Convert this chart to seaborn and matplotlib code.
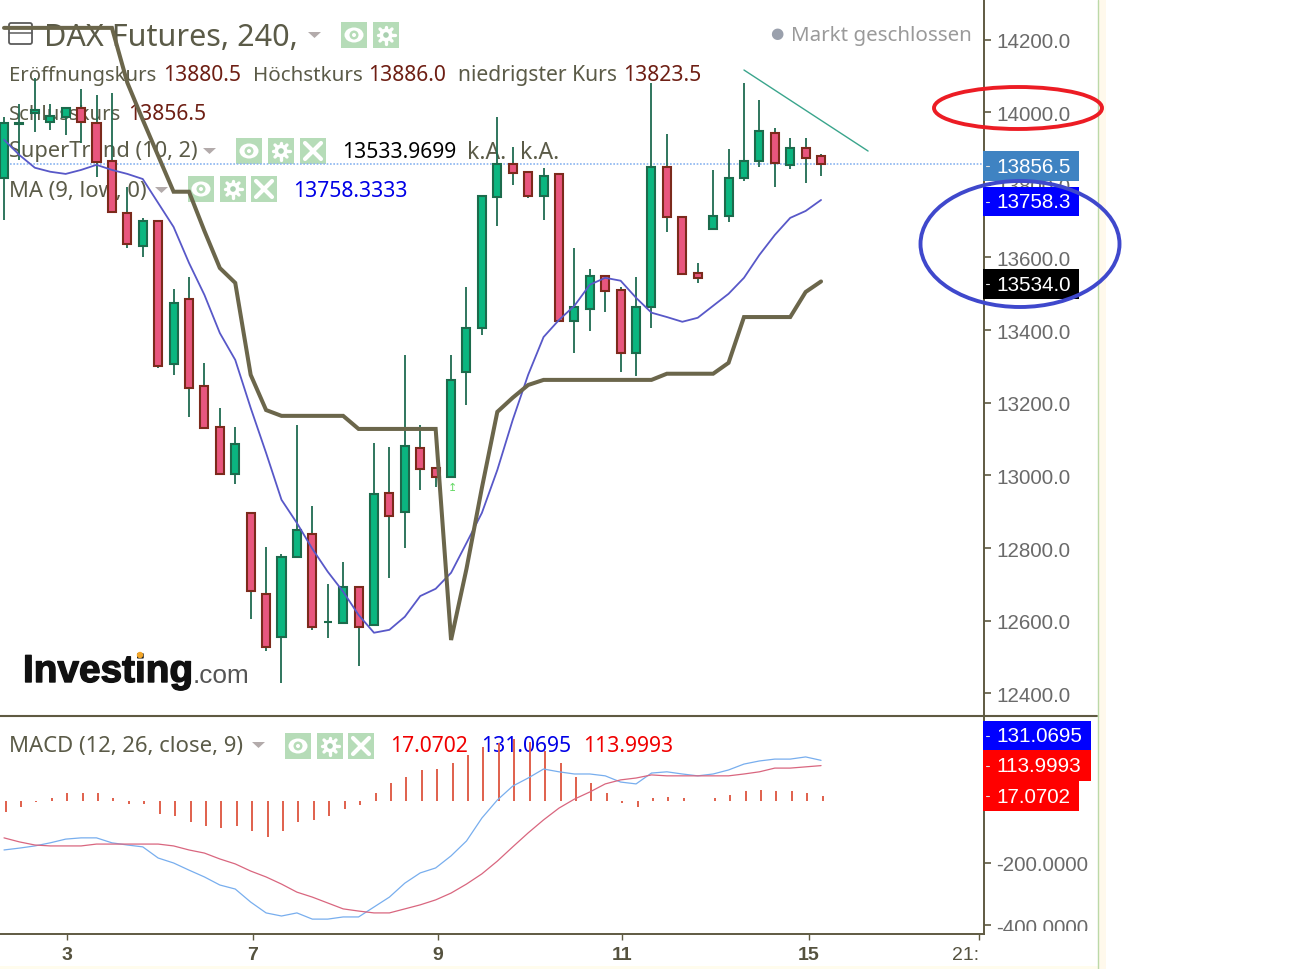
import matplotlib
matplotlib.use('Agg')
import numpy as np
import pandas as pd
import matplotlib.pyplot as plt
import matplotlib.transforms as mtrans
import matplotlib.patheffects as pe
from matplotlib.patches import Rectangle, Ellipse, Circle, Polygon, FancyBboxPatch
from matplotlib.lines import Line2D
import seaborn as sns

# candles (last one from the legend)
opens = [13819, 13968, 13998, 13973, 13987, 14012, 13970, 13866, 13723, 13632, 13701, 13307, 13486, 13247,
         13134, 13004, 12897, 12674, 12556, 12776, 12839, 12597, 12594, 12693, 12589, 12952, 12900, 13076,
         13021, 12996, 13285, 13406, 13767, 13858, 13836, 13769, 13830, 13425, 13458, 13549, 13511, 13337,
         13464, 13849, 13712, 13558, 13679, 13714, 13819, 13866, 13943, 13855, 13902, 13880.5]
highs = [13987, 14023, 14094, 14023, 14014, 14064, 14048, 14053, 13794, 13709, 13701, 13514, 13547, 13310,
         13186, 13134, 12897, 12803, 12784, 13139, 12916, 12702, 12762, 12693, 13090, 13079, 13332, 13139,
         13021, 13332, 13519, 13769, 13987, 13904, 13836, 13847, 13830, 13626, 13569, 13549, 13519, 13547,
         14081, 13940, 13712, 13585, 13841, 13899, 14081, 14034, 13957, 13929, 13929, 13886.0]
lows = [13703, 13869, 13946, 13951, 13937, 13915, 13822, 13725, 13626, 13602, 13296, 13277, 13161, 13131,
        13004, 12977, 12605, 12517, 12429, 12776, 12575, 12553, 12594, 12476, 12589, 12718, 12801, 12960,
        12969, 12996, 13194, 13387, 13687, 13800, 13764, 13703, 13425, 13337, 13398, 13450, 13285, 13274,
        13406, 13670, 13555, 13530, 13679, 13698, 13811, 13849, 13794, 13844, 13805, 13823.5]
closes = [13970, 13970, 14006, 13990, 14012, 13973, 13863, 13725, 13637, 13701, 13302, 13475, 13241, 13131,
          13004, 13087, 12682, 12528, 12776, 12850, 12583, 12597, 12693, 12583, 12949, 12889, 13081, 13018,
          12996, 13263, 13406, 13769, 13858, 13833, 13769, 13825, 13425, 13464, 13549, 13508, 13337, 13464,
          13849, 13712, 13555, 13544, 13714, 13819, 13866, 13948, 13860, 13902, 13874, 13856.5]
ma_low = [13924, 13882, 13847, 13836, 13830, 13841, 13855, 13841, 13830, 13816, 13750, 13684, 13585, 13497,
          13392, 13318, 13186, 13062, 12933, 12869, 12798, 12735, 12680, 12616, 12567, 12575, 12611, 12668,
          12688, 12732, 12814, 12897, 13015, 13153, 13277, 13381, 13428, 13467, 13525, 13544, 13536, 13489,
          13448, 13436, 13423, 13434, 13467, 13500, 13544, 13607, 13662, 13709, 13728, 13758.3]
supertrend = [14232, 14232, 14232, 14232, 14232, 14232, 14232, 14232, 14081, 13979, 13880, 13781, 13781, 13673,
              13571, 13530, 13277, 13180, 13164, 13164, 13164, 13164, 13164, 13128, 13128, 13128, 13128, 13128,
              13128, 12547, 12743, 12966, 13175, 13214, 13249, 13263, 13263, 13263, 13263, 13263, 13263, 13263,
              13263, 13280, 13280, 13280, 13280, 13310, 13436, 13436, 13436, 13436, 13505, 13534]
macd_line = [-158, -152, -145, -135, -123, -119, -119, -135, -142, -148, -184, -200, -223, -245, -271, -284,
             -326, -361, -371, -361, -381, -381, -374, -374, -342, -310, -265, -232, -216, -177, -129, -55,
             3, 48, 74, 103, 94, 87, 87, 81, 61, 55, 90, 94, 87, 81, 87, 100, 119, 129, 135, 135, 142, 131]
signal_line = [-119, -132, -142, -145, -145, -145, -139, -139, -139, -139, -139, -145, -158, -168, -187, -203,
               -226, -245, -268, -294, -310, -329, -348, -355, -361, -361, -348, -335, -319, -297, -268, -235,
               -194, -148, -103, -61, -23, 6, 29, 55, 68, 74, 84, 81, 81, 81, 81, 81, 87, 94, 106, 106, 110, 114]
macd_hist = [-35, -18, -3, 10, 25, 25, 25, 8, -11, -11, -43, -48, -67, -80, -86, -80, -97, -115, -97, -67,
             -61, -48, -27, -14, 25, 57, 78, 99, 104, 122, 147, 175, 188, 201, 190, 161, 122, 78, 57, 25,
             -5, -18, 8, 13, 8, 0, 8, 18, 32, 36, 31, 31, 25, 17]

day_pos = [4.1, 16.15, 28.15, 40.1, 52.2, 63.25]
day_labels = ['3', '7', '9', '11', '15', '21:']
price_ticks = [12400, 12600, 12800, 13000, 13200, 13400, 13600, 13800, 14000, 14200]
macd_ticks = [-400, -200]
trend_x = [48, 56.05]
trend_y = [14116, 13893]
last_close = 13856.5

OLIVE = '#5f5a42'
GREEN = '#0bb680'
RED = '#e8567e'
TXT = '#5b5b48'
VAL = '#6e1f14'
LOGO_FONT = 'Liberation Sans'
UI_FONT = 'Noto Sans'

sns.set_style('white')
plt.rcParams['font.family'] = [UI_FONT, 'DejaVu Sans']

W, H = 1315, 970
fig = plt.figure(figsize=(W / 100, H / 100), dpi=100)
ax = fig.add_axes([0, 1 - 717 / H, 984 / W, 717 / H])
ax2 = fig.add_axes([0, 1 - 935 / H, 984 / W, 218 / H], sharex=ax)
# everything that is not data is placed in image pixels, y pointing down
px = mtrans.Affine2D().scale(1, -1).translate(0, H - 1)

df = pd.DataFrame({'i': np.arange(len(closes)), 'o': opens, 'h': highs, 'l': lows, 'c': closes,
                   'ma': ma_low, 'st': supertrend, 'macd': macd_line, 'sig': signal_line, 'hist': macd_hist})
up = df['c'] >= df['o']

ax.axhline(last_close, color='#8ab4f0', lw=1.2, ls=(0, (1, 1)), zorder=1.5)

# candles
for mask, body, edge, wick in [(up, GREEN, '#1c6b4c', '#1f6b50'), (~up, RED, '#7c2a1c', '#1f6b50')]:
    sub = df[mask]
    ax.vlines(sub['i'], sub['l'], sub['h'], color=wick, lw=1.3, zorder=2)
    ax.bar(sub['i'], (sub['c'] - sub['o']).abs(), bottom=sub[['o', 'c']].min(axis=1), width=0.52,
           color=body, edgecolor=edge, linewidth=1.5, zorder=2.2)

sns.lineplot(data=df, x='i', y='ma', ax=ax, color='#5858c8', lw=1.3, legend=False, errorbar=None, zorder=3)
sns.lineplot(data=df, x='i', y='st', ax=ax, color='#6b664b', lw=2.9, legend=False, errorbar=None, zorder=3.2,
             solid_joinstyle='miter')
ax.plot(trend_x, trend_y, color='#3aa58c', lw=1, zorder=3)

ax.set_xlim(-0.26, 63.57)
ax.set_ylim(12337.8, 14311.5)
ax.yaxis.tick_right()
ax.set_yticks(price_ticks)
ax.set_yticklabels([f'{t:.1f}' for t in price_ticks])
ax.set_xlabel('')
ax.set_ylabel('')
ax.tick_params(axis='x', bottom=False, labelbottom=False)

# MACD panel
ax2.vlines(df['i'] + 0.1, 0, df['hist'], color='#e0604c', lw=1.4, zorder=2)
sns.lineplot(data=df, x='i', y='macd', ax=ax2, color='#78aeee', lw=0.9, legend=False, errorbar=None, zorder=3)
sns.lineplot(data=df, x='i', y='sig', ax=ax2, color='#d9667f', lw=0.9, legend=False, errorbar=None, zorder=3.1)
ax2.set_ylim(-429, 274)
ax2.yaxis.tick_right()
ax2.set_yticks(macd_ticks)
ax2.set_yticklabels([f'{t:.4f}' for t in macd_ticks])
ax2.set_xticks(day_pos)
ax2.set_xticklabels(day_labels)
ax2.set_xlabel('')
ax2.set_ylabel('')
ax2.get_xticklabels()[-1].set_ha('right')

for a in (ax, ax2):
    a.set_facecolor('none')
    for side in ('left', 'top'):
        a.spines[side].set_visible(False)
    for side in ('right', 'bottom'):
        a.spines[side].set_color(OLIVE)
        a.spines[side].set_linewidth(1.4)
    a.tick_params(axis='y', right=True, length=5, width=1.2, color=OLIVE, pad=3.6, labelsize=14.9,
                  labelcolor='#6a6a6a')
    for lab in a.get_yticklabels():
        lab.set_fontfamily(LOGO_FONT)
ax2.tick_params(axis='x', bottom=True, length=4, width=1, color=OLIVE, pad=5, labelsize=14, labelcolor='#55523f')
for lab in ax2.get_xticklabels():
    lab.set_fontfamily(LOGO_FONT)
    lab.set_fontweight('bold')
ax2.get_xticklabels()[-1].set_fontweight('normal')


def label(a, x, y, s, color=TXT, size=15.2, **kw):
    kw.setdefault('zorder', 1)
    kw.setdefault('family', [UI_FONT, 'DejaVu Sans'])
    a.text(x, y + 2, s, color=color, fontsize=size, va='center', ha=kw.pop('ha', 'left'), transform=px, **kw)


def shape(a, patch):
    patch.set_transform(px)
    patch.set_clip_on(False)
    a.add_patch(patch)


def box(a, x0, y0):
    shape(a, Rectangle((x0, y0), 26, 26, fc='#b6dcb8', ec='none', zorder=1.1))


def eye_icon(a, x0, y0):
    box(a, x0, y0)
    shape(a, Ellipse((x0 + 13, y0 + 13), 19, 15, fc='white', ec='none', zorder=1.2))
    shape(a, Circle((x0 + 13, y0 + 13), 4.5, fc='#b6dcb8', ec='none', zorder=1.3))
    shape(a, Circle((x0 + 13, y0 + 13), 2, fc='white', ec='none', zorder=1.4))


def gear_icon(a, x0, y0):
    box(a, x0, y0)
    for ang in np.arange(0, 180, 45):
        dx, dy = 8.5 * np.cos(np.radians(ang)), 8.5 * np.sin(np.radians(ang))
        a.add_line(Line2D([x0 + 13 - dx, x0 + 13 + dx], [y0 + 13 - dy, y0 + 13 + dy], color='white', lw=2.4,
                          transform=px, clip_on=False, zorder=1.2))
    shape(a, Circle((x0 + 13, y0 + 13), 6.5, fc='white', ec='none', zorder=1.25))
    shape(a, Circle((x0 + 13, y0 + 13), 2.8, fc='#a9d0b0', ec='none', zorder=1.3))


def x_icon(a, x0, y0):
    box(a, x0, y0)
    for ys in ([y0 + 5, y0 + 21], [y0 + 21, y0 + 5]):
        a.add_line(Line2D([x0 + 5, x0 + 21], ys, color='white', lw=3, transform=px, clip_on=False, zorder=1.2))


def caret(a, x0, y0, w=13, h=6):
    shape(a, Polygon([(x0, y0), (x0 + w, y0), (x0 + w / 2, y0 + h)], fc='#b3abab', ec='none', zorder=1.1))


# header and indicator rows
shape(ax, FancyBboxPatch((9, 23), 23, 21, boxstyle='round,pad=0,rounding_size=2', fc='none', ec='#5c5c5c',
                         lw=1.3, zorder=1))
ax.add_line(Line2D([9, 32], [33, 33], color='#5c5c5c', lw=1.1, transform=px, clip_on=False, zorder=1))
label(ax, 44, 35, 'DAX Futures, 240,', size=22)
caret(ax, 308, 32)
eye_icon(ax, 341, 22)
gear_icon(ax, 373, 22)
label(ax, 777, 32, '●', color='#9aa0ac', size=11, ha='center')
label(ax, 791, 33, 'Markt geschlossen', color='#9a9a9a', size=14.8)

label(ax, 9, 73, 'Eröffnungskurs', size=14.6)
label(ax, 163, 73, '13880.5', color=VAL)
label(ax, 253, 73, 'Höchstkurs', size=14.8)
label(ax, 368, 73, '13886.0', color=VAL)
label(ax, 458, 73, 'niedrigster Kurs')
label(ax, 623, 73, '13823.5', color=VAL)
label(ax, 9, 112, 'Schlusskurs', size=14.6)
label(ax, 128, 112, '13856.5', color=VAL)
label(ax, 9, 149, 'SuperTrend (10, 2)', size=15.7)
caret(ax, 203, 148)
eye_icon(ax, 236, 138)
gear_icon(ax, 268, 138)
x_icon(ax, 300, 138)
label(ax, 342, 150, '13533.9699', color='black')
label(ax, 467, 150, 'k.A.', size=16.5)
label(ax, 520, 150, 'k.A.', size=16.5)
label(ax, 9, 189, 'MA (9, low, 0)', size=15.8)
caret(ax, 155, 187)
eye_icon(ax, 188, 176)
gear_icon(ax, 220, 176)
x_icon(ax, 251, 176)
label(ax, 293, 189, '13758.3333', color='#0000e6')
label(ax2, 9, 744, 'MACD (12, 26, close, 9)', size=15.9)
caret(ax2, 252, 742)
eye_icon(ax2, 285, 733)
gear_icon(ax2, 317, 733)
x_icon(ax2, 348, 733)
label(ax2, 390, 744, '17.0702', color='#f00000')
label(ax2, 481, 744, '131.0695', color='#0000e6')
label(ax2, 583, 744, '113.9993', color='#f00000')

# logo
ax.text(23, 672, 'Investing', color='#111111', fontsize=27.9, family=LOGO_FONT, weight='bold', va='center',
        transform=px, zorder=1, path_effects=[pe.withStroke(linewidth=1, foreground='#111111')])
ax.text(193, 675, '.com', color='#555555', fontsize=18.8, family=LOGO_FONT, va='center', transform=px, zorder=1)
shape(ax, Circle((140, 655), 3.2, fc='#f2a62a', ec='none', zorder=1.2))
label(ax, 452, 485, '↥', color='#66d966', size=8, ha='center', family='DejaVu Sans')

# value boxes on the scales
for y0, y1, x1, color, txt in [(151, 181, 1079, '#3f83c2', '13856.5'), (187, 216, 1079, '#0000ff', '13758.3'),
                               (269, 299, 1079, '#000000', '13534.0'), (721, 750, 1091, '#0000ff', '131.0695'),
                               (750, 781, 1091, '#ff0000', '113.9993'), (781, 811, 1079, '#ff0000', '17.0702')]:
    fig.add_artist(Rectangle((983, y0), x1 - 983, y1 - y0, fc=color, ec='none', transform=px, zorder=4))
    fig.add_artist(Line2D([986, 989], [(y0 + y1) / 2, (y0 + y1) / 2], color='#dddddd', lw=0.8, transform=px, zorder=4.1))
    fig.text(996.5, (y0 + y1) / 2 + 0.5, txt, color='white', fontsize=14.9, family=LOGO_FONT, va='center',
             transform=px, zorder=4.2)

# hand drawn marks
fig.add_artist(Ellipse((1018, 108), 168, 42, fc='none', ec='#ec1c24', lw=2.8, transform=px, zorder=5))
fig.add_artist(Ellipse((1020, 244), 199, 126, fc='none', ec='#3f48cc', lw=2.8, transform=px, zorder=5))

# panel separator, clipped -400 label, page edge
fig.add_artist(Line2D([0, 1097], [716, 716], color=OLIVE, lw=1.5, transform=px, zorder=3))
fig.add_artist(Rectangle((990, 930.5), 106, 20, fc='white', ec='none', transform=px, zorder=3))
fig.add_artist(Rectangle((1098.5, 0), 7, H, fc='#fff9ec', ec='none', transform=px, zorder=2))
fig.add_artist(Line2D([1098, 1098], [0, H], color='#bcd9a8', lw=1, transform=px, zorder=3))
fig.add_artist(Rectangle((0, 966), 1098, 4, fc='#fffced', ec='none', transform=px, zorder=2))

fig.savefig('out.png', dpi=100)
plt.close(fig)
